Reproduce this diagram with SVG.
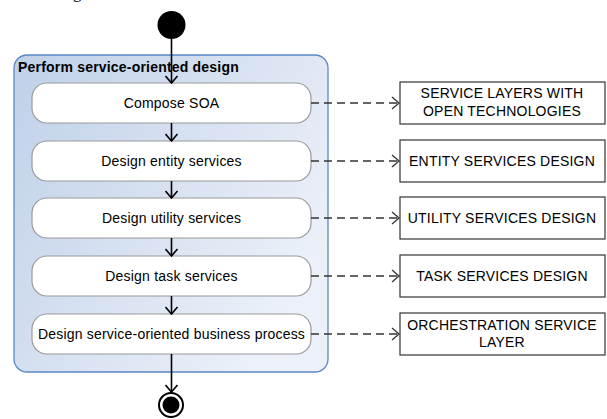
<svg xmlns="http://www.w3.org/2000/svg" width="607" height="419" viewBox="0 0 607 419">
<defs>
<linearGradient id="grad" x1="0" y1="0" x2="1" y2="0.6">
<stop offset="0" stop-color="#bfd0e8"/>
<stop offset="1" stop-color="#ecf1f9"/>
</linearGradient>
<marker id="arr" viewBox="0 0 14 14" refX="13" refY="7" markerWidth="14" markerHeight="14" markerUnits="userSpaceOnUse" orient="auto">
<path d="M6,1 L13,7 L6,13" fill="none" stroke="#000" stroke-width="1.6"/>
</marker>
<marker id="arrd" viewBox="0 0 14 14" refX="13" refY="7" markerWidth="14" markerHeight="14" markerUnits="userSpaceOnUse" orient="auto">
<path d="M6,1 L13,7 L6,13" fill="none" stroke="#333" stroke-width="1.3"/>
</marker>
</defs>
<style>
.act{fill:#fff;stroke:#9a9a9a;stroke-width:1.2}
.box{fill:#fff;stroke:#333;stroke-width:1.2}
.t{font-family:"Liberation Sans",Arial,sans-serif;font-size:14px;fill:#000;text-anchor:middle;letter-spacing:0.2px}
.b{font-family:"Liberation Sans",Arial,sans-serif;font-size:14px;fill:#000;text-anchor:middle;letter-spacing:0.2px}
.flow{stroke:#000;stroke-width:1.6;fill:none}
.dep{stroke:#333;stroke-width:1.3;fill:none;stroke-dasharray:8 5}
</style>
<text x="73" y="-2" font-family="Liberation Serif,serif" font-size="17">g</text>
<g id="container">
<rect x="14" y="55" width="314" height="317" rx="13" ry="13" fill="url(#grad)" stroke="#5b87c6" stroke-width="1.3"/>
<text x="18" y="72" font-family="Liberation Sans,Arial,sans-serif" font-size="14" font-weight="bold" letter-spacing="0.2">Perform service-oriented design</text>
</g>
<g id="start"><circle cx="171.5" cy="25" r="14" fill="#000"/></g>
<g id="a1"><rect class="act" x="32" y="83" width="279" height="40" rx="15"/><text class="t" x="171.5" y="108">Compose SOA</text></g>
<g id="a2"><rect class="act" x="32" y="141" width="279" height="40" rx="15"/><text class="t" x="171.5" y="166">Design entity services</text></g>
<g id="a3"><rect class="act" x="32" y="198" width="279" height="40" rx="15"/><text class="t" x="171.5" y="223">Design utility services</text></g>
<g id="a4"><rect class="act" x="32" y="256" width="279" height="40" rx="15"/><text class="t" x="171.5" y="281">Design task services</text></g>
<g id="a5"><rect class="act" x="32" y="314" width="279" height="40" rx="15"/><text class="t" x="171.5" y="339">Design service-oriented business process</text></g>
<g id="end"><circle cx="171" cy="405" r="12" fill="#fff" stroke="#000" stroke-width="2"/><circle cx="171" cy="405" r="8.5" fill="#000"/></g>
<g id="b1"><rect class="box" x="400" y="82" width="205" height="42"/><text class="b" x="502" y="98">SERVICE LAYERS WITH</text><text class="b" x="502" y="116">OPEN TECHNOLOGIES</text></g>
<g id="b2"><rect class="box" x="400" y="140" width="205" height="42"/><text class="b" x="502" y="166">ENTITY SERVICES DESIGN</text></g>
<g id="b3"><rect class="box" x="400" y="197" width="205" height="42"/><text class="b" x="502" y="223">UTILITY SERVICES DESIGN</text></g>
<g id="b4"><rect class="box" x="400" y="255" width="205" height="42"/><text class="b" x="502" y="281">TASK SERVICES DESIGN</text></g>
<g id="b5"><rect class="box" x="400" y="313" width="205" height="42"/><text class="b" x="502" y="330">ORCHESTRATION SERVICE</text><text class="b" x="502" y="347">LAYER</text></g>
<g id="connectors">
<line class="flow" x1="171.5" y1="39" x2="171.5" y2="83" marker-end="url(#arr)"/>
<line class="flow" x1="171.5" y1="123" x2="171.5" y2="141" marker-end="url(#arr)"/>
<line class="flow" x1="171.5" y1="181" x2="171.5" y2="198" marker-end="url(#arr)"/>
<line class="flow" x1="171.5" y1="238" x2="171.5" y2="256" marker-end="url(#arr)"/>
<line class="flow" x1="171.5" y1="296" x2="171.5" y2="314" marker-end="url(#arr)"/>
<line class="flow" x1="171.5" y1="354" x2="171.5" y2="392" marker-end="url(#arr)"/>
<line class="dep" x1="311" y1="103" x2="399" y2="103" marker-end="url(#arrd)"/>
<line class="dep" x1="311" y1="161" x2="399" y2="161" marker-end="url(#arrd)"/>
<line class="dep" x1="311" y1="218" x2="399" y2="218" marker-end="url(#arrd)"/>
<line class="dep" x1="311" y1="276" x2="399" y2="276" marker-end="url(#arrd)"/>
<line class="dep" x1="311" y1="334" x2="399" y2="334" marker-end="url(#arrd)"/>
</g>
</svg>
